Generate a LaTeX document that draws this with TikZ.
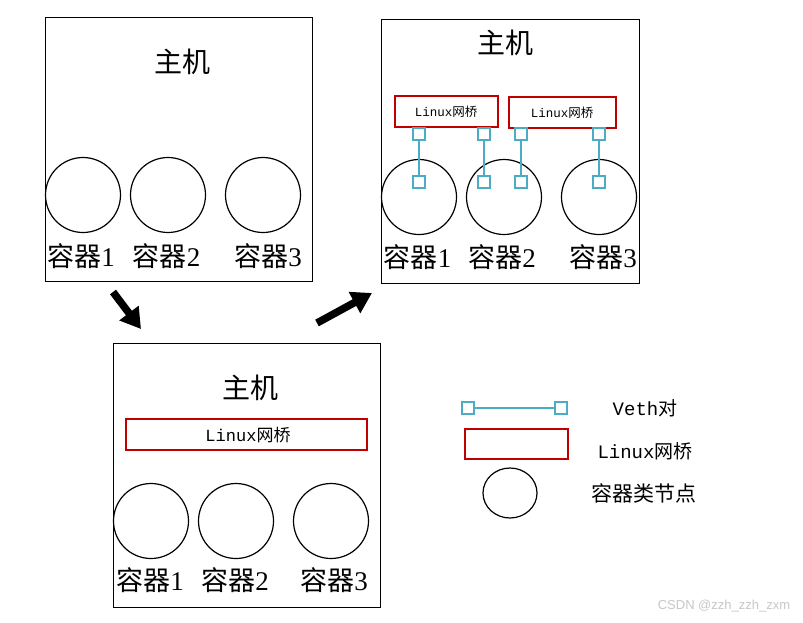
\documentclass[tikz,border=0pt]{standalone}
\usepackage{fontspec}
\setmainfont{Liberation Serif}
\newfontfamily\cjk{Noto Sans CJK SC}
\newfontfamily\monofont{Liberation Mono}
\newfontfamily\wmfont{Liberation Sans}
\usetikzlibrary{arrows.meta,shapes.geometric}
\definecolor{bridgered}{HTML}{C00000}
\definecolor{vethblue}{HTML}{4BACC6}
\newcommand\linuxbridgetext{{\monofont Linux}{\cjk 网桥}}
\newcommand\ctr[1]{{\cjk 容器}#1}
\tikzset{
  host/.style={draw, line width=1.3pt, inner sep=0pt, anchor=north west},
  title/.style={font=\cjk\fontsize{28}{28}\selectfont, inner sep=0pt},
  container/.style={draw, circle, line width=1.2pt, minimum size=75pt, inner sep=0pt},
  ctrlabel/.style={font=\fontsize{27}{27}\selectfont, inner sep=0pt},
  bridge/.style={draw=bridgered, line width=1.3pt, inner sep=0pt},
  port/.style={draw=vethblue, fill=white, line width=1.2pt, minimum size=12pt, inner sep=0pt},
  veth/.style={draw=vethblue, line width=1.2pt},
  bigarrow/.style={line width=7.5pt, -{Triangle[length=20pt,width=23pt]}},
  legendtext/.style={font=\fontsize{19}{19}\selectfont, inner sep=0pt}
}
\begin{document}
\begin{tikzpicture}[x=1pt,y=-1pt]
\useasboundingbox (0,0) rectangle (803,622);
\fill[white] (0,0) rectangle (803,622);

% ---------- Host 1 (top-left) ----------
\node[host, minimum width=267pt, minimum height=264pt] (h1) at (45,17) {};
\node[title] (h1t) at (182,62) {主机};
\node[container] (h1c1) at (83,195) {};
\node[container] (h1c2) at (168,195) {};
\node[container] (h1c3) at (263,195) {};
\node[ctrlabel] (h1l1) at (81,256) {\ctr{1}};
\node[ctrlabel] (h1l2) at (166.5,256) {\ctr{2}};
\node[ctrlabel] (h1l3) at (268,256) {\ctr{3}};

% ---------- Host 2 (top-right) ----------
\node[host, minimum width=258pt, minimum height=264pt] (h2) at (381,19) {};
\node[title] (h2t) at (505,43) {主机};
\node[container] (h2c1) at (419,197) {};
\node[container] (h2c2) at (504,197) {};
\node[container] (h2c3) at (599,197) {};
\node[ctrlabel] (h2l1) at (417.5,257) {\ctr{1}};
\node[ctrlabel] (h2l2) at (502,257) {\ctr{2}};
\node[ctrlabel] (h2l3) at (603,257) {\ctr{3}};
\node[bridge, minimum width=103pt, minimum height=31pt] (b1) at (446.5,111.5) {};
\node[bridge, minimum width=107pt, minimum height=31pt] (b2) at (562.5,112.5) {};
\node[font=\fontsize{12.5}{12.5}\selectfont, inner sep=0pt] (b1t) at (446,112) {\linuxbridgetext};
\node[font=\fontsize{12.5}{12.5}\selectfont, inner sep=0pt] (b2t) at (562,113) {\linuxbridgetext};
\node[port] (p1a) at (419,134) {};
\node[port] (p1b) at (419,182) {};
\node[port] (p2a) at (484,134) {};
\node[port] (p2b) at (484,182) {};
\node[port] (p3a) at (521,134) {};
\node[port] (p3b) at (521,182) {};
\node[port] (p4a) at (599,134) {};
\node[port] (p4b) at (599,182) {};
\draw[veth] (p1a) -- (p1b);
\draw[veth] (p2a) -- (p2b);
\draw[veth] (p3a) -- (p3b);
\draw[veth] (p4a) -- (p4b);

% ---------- Host 3 (bottom) ----------
\node[host, minimum width=267pt, minimum height=264pt] (h3) at (113,343) {};
\node[title] (h3t) at (250,388) {主机};
\node[bridge, minimum width=241pt, minimum height=31pt] (b3) at (246.5,434.5) {};
\node[font=\fontsize{17}{17}\selectfont, inner sep=0pt] (b3t) at (248,435) {\linuxbridgetext};
\node[container] (h3c1) at (151,521) {};
\node[container] (h3c2) at (236,521) {};
\node[container] (h3c3) at (331,521) {};
\node[ctrlabel] (h3l1) at (150,580) {\ctr{1}};
\node[ctrlabel] (h3l2) at (235,580) {\ctr{2}};
\node[ctrlabel] (h3l3) at (334,580) {\ctr{3}};

% ---------- Arrows ----------
\coordinate (a1s) at (113,292);
\coordinate (a1e) at (141,329);
\coordinate (a2s) at (317,323);
\coordinate (a2e) at (372,293);
\draw[bigarrow] (a1s) -- (a1e);
\draw[bigarrow] (a2s) -- (a2e);

% ---------- Legend ----------
\node[port] (lp1) at (468,408) {};
\node[port] (lp2) at (561,408) {};
\draw[veth] (lp1) -- (lp2);
\node[legendtext] (lt1) at (645,408) {{\monofont Veth}{\cjk 对}};
\node[bridge, minimum width=103pt, minimum height=30pt] (lb) at (516.5,444) {};
\node[legendtext] (lt2) at (645,451) {\linuxbridgetext};
\node[draw, ellipse, line width=1.2pt, minimum width=54pt, minimum height=50pt, inner sep=0pt] (lc) at (510,493) {};
\node[legendtext, font=\cjk\fontsize{21}{21}\selectfont] (lt3) at (644,493) {容器类节点};

% ---------- Watermark ----------
\node[font=\wmfont\fontsize{13}{13}\selectfont, text=black!22, inner sep=0pt] (wm) at (724,606) {CSDN @zzh\_zzh\_zxm};
\end{tikzpicture}
\end{document}
